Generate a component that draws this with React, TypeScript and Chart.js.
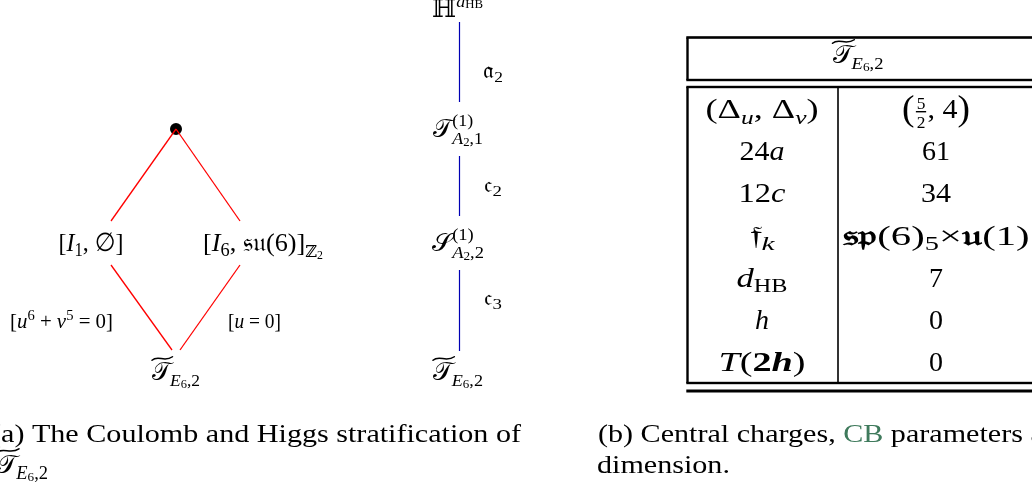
import React, { useEffect, useRef } from "react";
import { Chart, registerables } from "chart.js";

Chart.register(...registerables);

// ---------------- data ----------------
// Hasse diagram of the Coulomb/Higgs stratification (left panel), figure units
const redFromX = [176, 176, 111, 240];
const redFromY = [129, 129, 265, 265];
const redToX = [111, 240, 172, 180];
const redToY = [221, 221, 350, 350];
const topNodeX = [176];
const topNodeY = [129];

// Stratification chain (middle panel)
const chainX = [459.5, 459.5, 459.5];
const blueFromY = [22, 156, 270];
const blueToY = [102, 216, 351];

// Table (right panel)
const rowLabels = ["(Δu,Δv)", "24a", "12c", "fk", "dHB", "h", "T(2h)"];
const rowValues = ["(5/2,4)", "61", "34", "sp(6)5×u(1)", "7", "0", "0"];

// ---------------- rich text helpers ----------------
type Run = {
  t?: string;
  f?: "r" | "i" | "b" | "bi";
  k?: number;
  dy?: number;
  dx?: number;
  mark?: boolean;
  back?: boolean;
  tilde?: boolean;
  color?: string;
  frac?: [string, string];
};

const SCRIPT_T = "\u{1D4AF}";
const SCRIPT_S = "\u{1D4AE}";
const FRAK_A = "\u{1D51E}";
const FRAK_C = "\u{1D520}";
const FRAK_F = "\u{1D523}";
const FRAK_SU = "\u{1D530}\u{1D532}";
const FRAK_SP = "\u{1D530}\u{1D52D}";
const FRAK_U = "\u{1D532}";

const FAM = '"Liberation Serif", "Times New Roman", "DejaVu Serif", "DejaVu Sans", "Noto Sans", serif';

function fontFor(f: string | undefined, px: number) {
  const st = f === "i" ? "italic " : f === "b" ? "bold " : f === "bi" ? "italic bold " : "";
  return `${st}${px.toFixed(2)}px ${FAM}`;
}

const TT: Run[] = [
  { t: SCRIPT_T, tilde: true },
  { t: "E", f: "i", k: 0.7, dy: 0.22, dx: -0.04 },
  { t: "6", k: 0.5, dy: 0.3 },
  { t: ",2", k: 0.7, dy: 0.22 },
];

const RUNS: Record<string, Run[]> = {
  I1: [{ t: "[" }, { t: "I", f: "i" }, { t: "1", k: 0.7, dy: 0.2 }, { t: ", ∅]" }],
  I6: [
    { t: "[" },
    { t: "I", f: "i" },
    { t: "6", k: 0.7, dy: 0.2 },
    { t: ", " },
    { t: FRAK_SU },
    { t: "(6)]" },
    { t: "ℤ", k: 0.62, dy: 0.24 },
    { t: "2", k: 0.45, dy: 0.32 },
  ],
  eqA: [
    { t: "[" },
    { t: "u", f: "i" },
    { t: "6", k: 0.7, dy: -0.38 },
    { t: " + " },
    { t: "v", f: "i" },
    { t: "5", k: 0.7, dy: -0.38 },
    { t: " = 0]" },
  ],
  eqB: [{ t: "[" }, { t: "u", f: "i" }, { t: " = 0]" }],
  Hd: [{ t: "ℍ" }, { t: "d", f: "i", k: 0.7, dy: -0.42 }, { t: "HB", k: 0.5, dy: -0.35 }],
  a2: [{ t: FRAK_A }, { t: "2", k: 0.7, dy: 0.18 }],
  c2: [{ t: FRAK_C }, { t: "2", k: 0.7, dy: 0.18 }],
  c3: [{ t: FRAK_C }, { t: "3", k: 0.7, dy: 0.18 }],
  T1: [
    { t: SCRIPT_T },
    { t: "(1)", k: 0.7, dy: -0.45, mark: true },
    { t: "A", f: "i", k: 0.7, dy: 0.28, back: true },
    { t: "2", k: 0.5, dy: 0.36 },
    { t: ",1", k: 0.7, dy: 0.28 },
  ],
  S1: [
    { t: SCRIPT_S },
    { t: "(1)", k: 0.7, dy: -0.45, mark: true },
    { t: "A", f: "i", k: 0.7, dy: 0.28, back: true },
    { t: "2", k: 0.5, dy: 0.36 },
    { t: ",2", k: 0.7, dy: 0.28 },
  ],
  TT,
  "(Δu,Δv)": [
    { t: "(Δ" },
    { t: "u", f: "i", k: 0.7, dy: 0.2 },
    { t: ", Δ" },
    { t: "v", f: "i", k: 0.7, dy: 0.2 },
    { t: ")" },
  ],
  "24a": [{ t: "24" }, { t: "a", f: "i" }],
  "12c": [{ t: "12" }, { t: "c", f: "i" }],
  fk: [{ t: FRAK_F }, { t: "k", f: "i", k: 0.7, dy: 0.2 }],
  dHB: [{ t: "d", f: "i" }, { t: "HB", k: 0.7, dy: 0.2 }],
  h: [{ t: "h", f: "i" }],
  "T(2h)": [{ t: "T", f: "i" }, { t: "(" }, { t: "2", f: "b" }, { t: "h", f: "bi" }, { t: ")" }],
  "(5/2,4)": [
    { t: "(", k: 1.25, dy: 0.06 },
    { frac: ["5", "2"], k: 0.58 },
    { t: ", 4" },
    { t: ")", k: 1.25, dy: 0.06 },
  ],
  "61": [{ t: "61" }],
  "34": [{ t: "34" }],
  "sp(6)5×u(1)": [
    { t: FRAK_SP, f: "b" },
    { t: "(6)" },
    { t: "5", k: 0.7, dy: 0.2 },
    { t: "×" },
    { t: FRAK_U, f: "b" },
    { t: "(1)" },
  ],
  "7": [{ t: "7" }],
  "0": [{ t: "0" }],
};

type Item = { r: Run; x: number; w: number; font: string; fs: number };

function layoutRuns(ctx: CanvasRenderingContext2D, runs: Run[], size: number) {
  let x = 0;
  let mark = 0;
  let maxX = 0;
  const items: Item[] = [];
  for (const r of runs) {
    const fs = size * (r.k ?? 1);
    const font = fontFor(r.f, fs);
    ctx.font = font;
    if (r.back) x = mark;
    if (r.mark) mark = x;
    x += (r.dx ?? 0) * size;
    let w = 0;
    if (r.frac) {
      w = Math.max(ctx.measureText(r.frac[0]).width, ctx.measureText(r.frac[1]).width) + fs * 0.25;
    } else {
      w = ctx.measureText(r.t || "").width;
    }
    items.push({ r, x, w, font, fs });
    x += w;
    maxX = Math.max(maxX, x);
  }
  return { items, width: maxX };
}

function drawTilde(ctx: CanvasRenderingContext2D, x0: number, w: number, yb: number, size: number) {
  const h = size * 0.07;
  const x1 = x0 + w * 1.08;
  const ww = x1 - x0;
  ctx.save();
  ctx.lineWidth = size * 0.06;
  ctx.lineCap = "round";
  ctx.beginPath();
  ctx.moveTo(x0, yb + h);
  ctx.bezierCurveTo(x0 + ww * 0.3, yb - h * 2.2, x0 + ww * 0.6, yb + h * 2.4, x1, yb - h);
  ctx.stroke();
  ctx.restore();
}

function drawRuns(
  ctx: CanvasRenderingContext2D,
  runs: Run[],
  x: number,
  y: number,
  size: number,
  align: string,
  target?: number,
  fixedSx?: number,
  color = "#000"
) {
  const lay = layoutRuns(ctx, runs, size);
  const sx = fixedSx ?? (target ? target / lay.width : 1);
  const w = lay.width * sx;
  const left = align === "center" ? x - w / 2 : x;
  ctx.save();
  ctx.translate(left, y);
  ctx.scale(sx, 1);
  ctx.textBaseline = "alphabetic";
  ctx.textAlign = "left";
  for (const it of lay.items) {
    const c = it.r.color || color;
    ctx.fillStyle = c;
    ctx.strokeStyle = c;
    const dy = (it.r.dy ?? 0) * size;
    ctx.font = it.font;
    if (it.r.frac) {
      const [n, d] = it.r.frac;
      const nw = ctx.measureText(n).width;
      const dw = ctx.measureText(d).width;
      ctx.fillText(n, it.x + (it.w - nw) / 2, dy - size * 0.33);
      ctx.fillText(d, it.x + (it.w - dw) / 2, dy + size * 0.36);
      ctx.fillRect(it.x + it.fs * 0.08, dy - size * 0.25, it.w - it.fs * 0.16, size * 0.05);
    } else {
      ctx.fillText(it.r.t || "", it.x, dy);
    }
    if (it.r.tilde) drawTilde(ctx, it.x, it.w, dy - size * 0.86, size);
  }
  ctx.restore();
  return sx;
}

// ---------------- layout (positions / sizes) ----------------
type Label = { key: string; x: number; y: number; size: number; w?: number; align?: string };

const diagramLabels: Label[] = [
  { key: "I1", x: 91, y: 251, size: 26, w: 65 },
  { key: "I6", x: 263, y: 251, size: 26, w: 120 },
  { key: "eqA", x: 61.5, y: 328, size: 20, w: 103 },
  { key: "eqB", x: 254.5, y: 328, size: 20, w: 53 },
  { key: "TT", x: 176, y: 380, size: 25, w: 48 },
  { key: "Hd", x: 457.5, y: 17, size: 25, w: 51 },
  { key: "a2", x: 493, y: 78, size: 22, w: 20 },
  { key: "T1", x: 458, y: 137, size: 25, w: 50 },
  { key: "c2", x: 493, y: 192, size: 22, w: 18 },
  { key: "S1", x: 458, y: 251, size: 25, w: 52 },
  { key: "c3", x: 493, y: 305, size: 22, w: 18 },
  { key: "TT", x: 458, y: 380, size: 25, w: 50 },
  { key: "TT", x: 858, y: 63, size: 25, w: 51 },
];

const labelWidths: Record<string, number | undefined> = {
  "(Δu,Δv)": 113,
  "24a": 45,
  "12c": 47,
  fk: 25,
  dHB: 51,
  "T(2h)": 87,
  "(5/2,4)": 68,
  "61": 28,
  "34": 30,
  "sp(6)5×u(1)": 187,
};

const TBL = {
  left: 687.5,
  right: 1036,
  mid: 838,
  top: 37.5,
  head1: 80,
  head2: 87,
  bottom: 383,
  rule: 391,
  labelCx: 762,
  valueCx: 936,
  size: 28,
  firstBase: 118,
  step: 42.2,
};

const figurePlugin = {
  id: "figureText",
  afterDatasetsDraw(chart: any) {
    const ctx: CanvasRenderingContext2D = chart.ctx;
    const X = (v: number) => chart.scales.x.getPixelForValue(v);
    const Y = (v: number) => chart.scales.y.getPixelForValue(v);
    ctx.save();
    // table rules
    ctx.fillStyle = "#000";
    const hline = (y: number, t: number, x0 = TBL.left - 1.2, x1 = TBL.right) =>
      ctx.fillRect(X(x0), Y(y) - t / 2, X(x1) - X(x0), t);
    const vline = (x: number, y0: number, y1: number, t: number) =>
      ctx.fillRect(X(x) - t / 2, Y(y0), t, Y(y1) - Y(y0));
    hline(TBL.top, 2.6);
    hline(TBL.head1, 2.4);
    hline(TBL.head2, 2.4);
    hline(TBL.bottom, 2.4);
    hline(TBL.rule, 3, TBL.left - 1.2, TBL.right + 10);
    vline(TBL.left, TBL.top, TBL.head1, 2.4);
    vline(TBL.left, TBL.head2, TBL.bottom, 2.4);
    vline(TBL.right, TBL.top, TBL.head1, 2.4);
    vline(TBL.right, TBL.head2, TBL.bottom, 2.4);
    vline(TBL.mid, TBL.head2, TBL.bottom, 1.6);

    for (const L of diagramLabels) {
      drawRuns(ctx, RUNS[L.key], X(L.x), Y(L.y), L.size, L.align || "center", L.w);
    }
    rowLabels.forEach((lab, i) => {
      const y = Y(TBL.firstBase + i * TBL.step);
      drawRuns(ctx, RUNS[lab], X(TBL.labelCx), y, TBL.size, "center", labelWidths[lab]);
      const val = rowValues[i];
      drawRuns(ctx, RUNS[val], X(TBL.valueCx), y, TBL.size, "center", labelWidths[val]);
    });

    // captions
    const capA: Run[] = [{ t: "(a) The Coulomb and Higgs stratification of" }];
    const sx = drawRuns(ctx, capA, X(-9), Y(442), 26, "left", 530);
    drawRuns(ctx, TT, X(-3), Y(473), 26, "left", 51);
    const capB: Run[] = [
      { t: "(b) Central charges, " },
      { t: "CB", color: "#3f7a5c" },
      { t: " parameters and Higgs branch" },
    ];
    drawRuns(ctx, capB, X(598), Y(442), 26, "left", undefined, sx);
    drawRuns(ctx, [{ t: "dimension." }], X(597), Y(473), 26, "left", undefined, sx);
    ctx.restore();
  },
};

export default function App() {
  const ref = useRef<HTMLCanvasElement | null>(null);
  useEffect(() => {
    if (!ref.current) return;
    const datasets: any[] = [];
    redFromX.forEach((_, i) => {
      datasets.push({
        data: [
          { x: redFromX[i], y: redFromY[i] },
          { x: redToX[i], y: redToY[i] },
        ],
        showLine: true,
        borderColor: "#ff0000",
        borderWidth: 1.3,
        pointRadius: 0,
      });
    });
    chainX.forEach((cx, i) => {
      datasets.push({
        data: [
          { x: cx, y: blueFromY[i] },
          { x: cx, y: blueToY[i] },
        ],
        showLine: true,
        borderColor: "#0000b4",
        borderWidth: 1.2,
        pointRadius: 0,
      });
    });
    datasets.push({
      data: topNodeX.map((x, i) => ({ x, y: topNodeY[i] })),
      pointRadius: 6,
      pointBackgroundColor: "#000",
      pointBorderWidth: 0,
      showLine: false,
    });
    const chart = new Chart(ref.current, {
      type: "scatter",
      data: { datasets },
      options: {
        animation: false,
        responsive: true,
        maintainAspectRatio: false,
        events: [],
        layout: { padding: 0, autoPadding: false },
        plugins: { legend: { display: false }, tooltip: { enabled: false } },
        scales: {
          x: { type: "linear", min: 0, max: 1032, display: false },
          y: { type: "linear", min: 0, max: 490, reverse: true, display: false },
        },
      },
      plugins: [figurePlugin],
    } as any);
    let alive = true;
    if ((document as any).fonts && (document as any).fonts.ready) {
      (document as any).fonts.ready.then(() => {
        if (alive) chart.draw();
      });
    }
    return () => {
      alive = false;
      chart.destroy();
    };
  }, []);
  return (
    <div style={{ position: "absolute", left: 0, top: 0, width: 1032, height: 490, background: "#fff" }}>
      <span
        style={{ position: "absolute", left: 0, top: 0, fontFamily: "'Liberation Serif'", visibility: "hidden" }}
      >
        Aa <i>Aa</i> <b>Aa</b>
      </span>
      <canvas ref={ref} />
    </div>
  );
}
